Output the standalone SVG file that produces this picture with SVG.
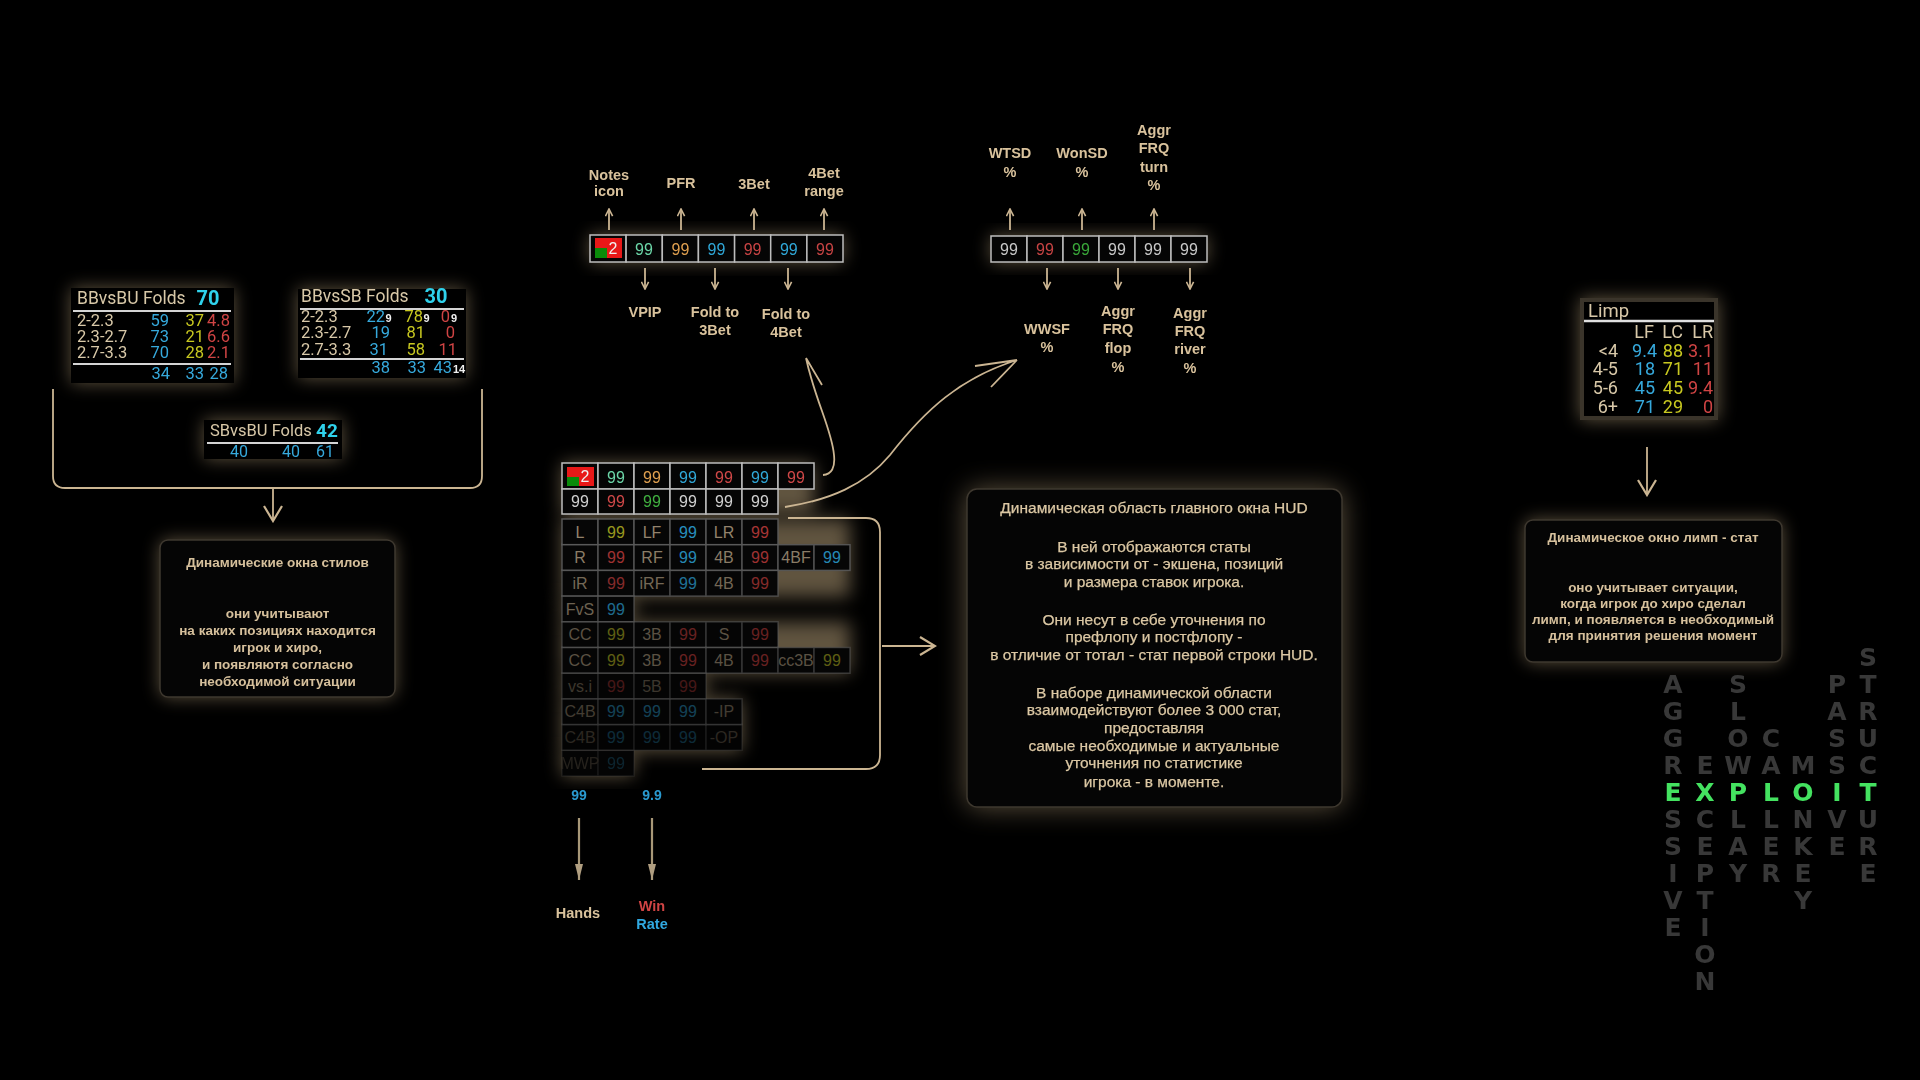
<svg xmlns="http://www.w3.org/2000/svg" width="1920" height="1080" viewBox="0 0 1920 1080">
<defs>
<style>
.lbl{font-family:"Liberation Sans",Arial,sans-serif;font-weight:bold;font-size:14.5px;fill:#d9c29c;text-anchor:middle}
.tb{font-family:"Liberation Sans",Arial,sans-serif;font-weight:bold;font-size:13.5px;fill:#d6c09c;text-anchor:middle}
.tc{font-family:"Liberation Sans",Arial,sans-serif;font-size:15.5px;fill:#dcc8a4;text-anchor:middle;stroke:#dcc8a4;stroke-width:0.25}
.box{fill:#050505;stroke:#3e382f;stroke-width:1.5}
.hz{font-family:Roboto,"Liberation Sans",sans-serif;font-size:16.5px}
.hd{font-family:"Liberation Sans",Arial,sans-serif;font-size:16px;text-anchor:middle}
.cell{fill:#050505;stroke:#bdbdbd;stroke-width:1.5}
.dc{fill:#070707;stroke:#5a5a5a;stroke-width:1.5}
.tan{fill:#d8c8a8}.blu{fill:#36a9dc}.yel{fill:#c8c820}.red{fill:#d04444}.cy{fill:#2fd2ec}.wht{fill:#f0f0f0}
.arr{stroke:#cbb592;stroke-width:1.8;fill:none}
.glw{fill:#a08c6a;filter:url(#blur)}
.let{font-family:"DejaVu Sans",Verdana,sans-serif;font-weight:bold;font-size:25px;text-anchor:middle;fill:#383838}
.grn{fill:#44e260}
</style>
<filter id="blur" x="-50%" y="-50%" width="200%" height="200%"><feGaussianBlur stdDeviation="9"/></filter>
<filter id="blur2" x="-50%" y="-50%" width="200%" height="200%"><feGaussianBlur stdDeviation="14"/></filter>
<marker id="hv" viewBox="0 0 10 10" refX="9" refY="5" markerWidth="9" markerHeight="9" markerUnits="userSpaceOnUse" orient="auto"><path d="M1,1 L9,5 L1,9" fill="none" stroke="#cbb592" stroke-width="1.8"/></marker>
<marker id="hb" viewBox="0 0 10 10" refX="9" refY="5" markerWidth="20" markerHeight="20" markerUnits="userSpaceOnUse" orient="auto"><path d="M1.5,0.5 L9,5 L1.5,9.5" fill="none" stroke="#cbb592" stroke-width="1.1"/></marker>
<marker id="hf" viewBox="0 0 10 10" refX="10" refY="5" markerWidth="16" markerHeight="16" markerUnits="userSpaceOnUse" orient="auto"><path d="M0,2.5 L10,5 L0,7.5 Z" fill="#b09e80"/></marker>
</defs>
<rect width="1920" height="1080" fill="#000"/>

<!-- glows -->
<g id="glows" opacity="0.6">
<rect class="glw" x="71" y="288" width="163" height="95"/>
<rect class="glw" x="298" y="289" width="168" height="89"/>
<rect class="glw" x="204" y="420" width="138" height="39"/>
<rect class="glw" x="160" y="540" width="235" height="157" rx="8"/>
<rect class="glw" x="590" y="235" width="253" height="27"/>
<rect class="glw" x="991" y="236" width="216" height="26"/>
<g>
<rect class="glw" x="562" y="463" width="252" height="51"/>
<rect class="glw" x="562" y="519" width="288" height="78"/>
<rect class="glw" x="562" y="596" width="72" height="26"/>
<rect class="glw" x="562" y="622" width="288" height="51"/>
<rect class="glw" x="562" y="673" width="144" height="26"/>
<rect class="glw" x="562" y="699" width="180" height="52"/>
<rect class="glw" x="562" y="750" width="72" height="26"/>
</g>
<rect x="967" y="489" width="375" height="318" rx="10" fill="#a08c6a" filter="url(#blur2)"/>
<rect class="glw" x="1580" y="298" width="138" height="122"/>
<rect class="glw" x="1525" y="520" width="257" height="142" rx="8"/>
</g>

<!-- connectors -->
<g id="connectors">
<path class="arr" d="M53 389 V476 Q53 488 65 488 H470 Q482 488 482 476 V389"/>
<path class="arr" d="M273 488 V521" marker-end="url(#hb)"/>
<path class="arr" d="M609 230 V209" marker-end="url(#hv)"/>
<path class="arr" d="M681 230 V209" marker-end="url(#hv)"/>
<path class="arr" d="M754 230 V209" marker-end="url(#hv)"/>
<path class="arr" d="M824 230 V209" marker-end="url(#hv)"/>
<path class="arr" d="M645 268 V289" marker-end="url(#hv)"/>
<path class="arr" d="M715 268 V289" marker-end="url(#hv)"/>
<path class="arr" d="M788 268 V289" marker-end="url(#hv)"/>
<path class="arr" d="M1010 230 V209" marker-end="url(#hv)"/>
<path class="arr" d="M1082 230 V209" marker-end="url(#hv)"/>
<path class="arr" d="M1154 230 V209" marker-end="url(#hv)"/>
<path class="arr" d="M1047 268 V289" marker-end="url(#hv)"/>
<path class="arr" d="M1118 268 V289" marker-end="url(#hv)"/>
<path class="arr" d="M1190 268 V289" marker-end="url(#hv)"/>
<path class="arr" stroke-width="1.6" d="M823 475 Q836 474 834 455 C832 430 815 400 806 358 M806 358 L822 385"/>
<path class="arr" stroke-width="1.6" d="M785 507 C830 500 865 485 890 455 C925 410 960 378 1017 360 M1017 360 L975 366 M1017 360 L991 387"/>
<path class="arr" d="M788 518 H866 Q880 518 880 532 V755 Q880 769 866 769 H702"/>
<path class="arr" d="M882 646 H935" marker-end="url(#hb)"/>
<path d="M579 818 V880" stroke="#a89878" stroke-width="2.2" marker-end="url(#hf)"/>
<path d="M652 818 V880" stroke="#a89878" stroke-width="2.2" marker-end="url(#hf)"/>
<path class="arr" d="M1647 447 V495" marker-end="url(#hb)"/>
</g>

<!-- left HUD boxes -->
<g id="bbvsbu" class="hz">
<rect x="71" y="288" width="163" height="95" fill="#000"/>
<text x="77" y="304" font-size="17.5" class="tan">BBvsBU Folds</text>
<text x="208" y="305" font-size="20" font-weight="bold" text-anchor="middle" class="cy">70</text>
<line x1="73" y1="311" x2="231" y2="311" stroke="#d4d4d4" stroke-width="2"/>
<text x="77" y="326" class="tan">2-2.3</text>
<text x="77" y="342" class="tan">2.3-2.7</text>
<text x="77" y="358" class="tan">2.7-3.3</text>
<g text-anchor="end">
<text x="169" y="326" class="blu">59</text><text x="204" y="326" class="yel">37</text><text x="230" y="326" class="red">4.8</text>
<text x="169" y="342" class="blu">73</text><text x="204" y="342" class="yel">21</text><text x="230" y="342" class="red">6.6</text>
<text x="169" y="358" class="blu">70</text><text x="204" y="358" class="yel">28</text><text x="230" y="358" class="red">2.1</text>
<text x="170" y="379" class="blu">34</text><text x="204" y="379" class="blu">33</text><text x="228" y="379" class="blu">28</text>
</g>
<line x1="73" y1="364" x2="231" y2="364" stroke="#d4d4d4" stroke-width="2"/>
</g>

<g id="bbvssb" class="hz">
<rect x="298" y="289" width="168" height="89" fill="#000"/>
<text x="301" y="302" font-size="17.5" class="tan">BBvsSB Folds</text>
<text x="436" y="303" font-size="20" font-weight="bold" text-anchor="middle" class="cy">30</text>
<line x1="300" y1="309" x2="464" y2="309" stroke="#d4d4d4" stroke-width="2"/>
<text x="301" y="322" class="tan">2-2.3</text>
<text x="301" y="338" class="tan">2.3-2.7</text>
<text x="301" y="355" class="tan">2.7-3.3</text>
<g text-anchor="end">
<text x="385" y="322" class="blu">22</text><text x="423" y="322" class="yel">78</text><text x="450" y="322" class="red">0</text>
<text x="390" y="338" class="blu">19</text><text x="425" y="338" class="yel">81</text><text x="455" y="338" class="red">0</text>
<text x="388" y="355" class="blu">31</text><text x="425" y="355" class="yel">58</text><text x="457" y="355" class="red">11</text>
<text x="390" y="373" class="blu">38</text><text x="426" y="373" class="blu">33</text><text x="452" y="373" class="blu">43</text>
</g>
<g font-family="'Liberation Sans',Arial,sans-serif" font-weight="bold" font-size="11" class="wht">
<text x="385.5" y="322">9</text><text x="423.5" y="322">9</text><text x="451" y="322">9</text>
<text x="453" y="373">14</text>
</g>
<line x1="300" y1="359" x2="464" y2="359" stroke="#d4d4d4" stroke-width="2"/>
</g>

<g id="sbvsbu" class="hz">
<rect x="204" y="420" width="138" height="39" fill="#000"/>
<text x="210" y="436" font-size="16.5" class="tan">SBvsBU Folds</text>
<text x="327" y="437" font-size="19" font-weight="bold" text-anchor="middle" class="cy">42</text>
<line x1="207" y1="443" x2="338" y2="443" stroke="#d4d4d4" stroke-width="2"/>
<g text-anchor="end" font-size="16">
<text x="248" y="457" class="blu">40</text><text x="300" y="457" class="blu">40</text><text x="334" y="457" class="blu">61</text>
</g>
</g>

<!-- left text box -->
<g id="styles-text">
<rect class="box" x="160" y="540" width="235" height="157" rx="8"/>
<text class="tb" x="277.5" y="567">Динамические окна стилов</text>
<text class="tb" x="277.5" y="618">они учитывают</text>
<text class="tb" x="277.5" y="635">на каких позициях находится</text>
<text class="tb" x="277.5" y="652">игрок и хиро,</text>
<text class="tb" x="277.5" y="669">и появляютя согласно</text>
<text class="tb" x="277.5" y="686">необходимой ситуации</text>
</g>

<!-- top center HUD row -->
<g id="hud-top">
<rect class="cell" x="590" y="235" width="36.1" height="27"/>
<rect class="cell" x="626.1" y="235" width="36.2" height="27"/>
<rect class="cell" x="662.3" y="235" width="36.1" height="27"/>
<rect class="cell" x="698.4" y="235" width="36.2" height="27"/>
<rect class="cell" x="734.6" y="235" width="36.1" height="27"/>
<rect class="cell" x="770.7" y="235" width="36.2" height="27"/>
<rect class="cell" x="806.9" y="235" width="36.1" height="27"/>
<rect x="595" y="238" width="27" height="20" fill="#e81818"/>
<rect x="595" y="248" width="12" height="10" fill="#0a8a0a"/>
<text class="hd wht" x="613" y="254" font-size="14">2</text>
<text class="hd" x="644" y="255" fill="#6cd6a8">99</text>
<text class="hd" x="680.4" y="255" fill="#e0a050">99</text>
<text class="hd" x="716.5" y="255" fill="#30a8d8">99</text>
<text class="hd" x="752.6" y="255" fill="#c84444">99</text>
<text class="hd" x="788.8" y="255" fill="#30a8d8">99</text>
<text class="hd" x="825" y="255" fill="#c84444">99</text>
</g>
<g id="hud-top-labels">
<text class="lbl" x="609" y="180">Notes</text><text class="lbl" x="609" y="196">icon</text>
<text class="lbl" x="681" y="188">PFR</text>
<text class="lbl" x="754" y="189">3Bet</text>
<text class="lbl" x="824" y="178">4Bet</text><text class="lbl" x="824" y="196">range</text>
<text class="lbl" x="645" y="317">VPIP</text>
<text class="lbl" x="715" y="317">Fold to</text><text class="lbl" x="715" y="335">3Bet</text>
<text class="lbl" x="786" y="319">Fold to</text><text class="lbl" x="786" y="337">4Bet</text>
</g>

<!-- top right HUD row -->
<g id="hud-post">
<rect class="cell" x="991" y="236" width="36" height="26"/>
<rect class="cell" x="1027" y="236" width="36" height="26"/>
<rect class="cell" x="1063" y="236" width="36" height="26"/>
<rect class="cell" x="1099" y="236" width="36" height="26"/>
<rect class="cell" x="1135" y="236" width="36" height="26"/>
<rect class="cell" x="1171" y="236" width="36" height="26"/>
<text class="hd" x="1009" y="255" font-size="15" fill="#c8c8c8">99</text>
<text class="hd" x="1045" y="255" font-size="15" fill="#c84444">99</text>
<text class="hd" x="1081" y="255" font-size="15" fill="#3aa83a">99</text>
<text class="hd" x="1117" y="255" font-size="15" fill="#c8c8c8">99</text>
<text class="hd" x="1153" y="255" font-size="15" fill="#c8c8c8">99</text>
<text class="hd" x="1189" y="255" font-size="15" fill="#c8c8c8">99</text>
</g>
<g id="hud-post-labels">
<text class="lbl" x="1010" y="158">WTSD</text><text class="lbl" x="1010" y="177">%</text>
<text class="lbl" x="1082" y="158">WonSD</text><text class="lbl" x="1082" y="177">%</text>
<text class="lbl" x="1154" y="135">Aggr</text><text class="lbl" x="1154" y="153">FRQ</text><text class="lbl" x="1154" y="172">turn</text><text class="lbl" x="1154" y="190">%</text>
<text class="lbl" x="1047" y="334">WWSF</text><text class="lbl" x="1047" y="352">%</text>
<text class="lbl" x="1118" y="316">Aggr</text><text class="lbl" x="1118" y="334">FRQ</text><text class="lbl" x="1118" y="353">flop</text><text class="lbl" x="1118" y="372">%</text>
<text class="lbl" x="1190" y="318">Aggr</text><text class="lbl" x="1190" y="336">FRQ</text><text class="lbl" x="1190" y="354">river</text><text class="lbl" x="1190" y="373">%</text>
</g>

<!-- main HUD -->
<g id="hud-main">
<g>
<rect class="cell" x="562" y="463" width="36" height="26"/>
<rect class="cell" x="598" y="463" width="36" height="26"/>
<rect class="cell" x="634" y="463" width="36" height="26"/>
<rect class="cell" x="670" y="463" width="36" height="26"/>
<rect class="cell" x="706" y="463" width="36" height="26"/>
<rect class="cell" x="742" y="463" width="36" height="26"/>
<rect class="cell" x="778" y="463" width="36" height="26"/>
<rect x="567" y="467" width="27" height="19" fill="#e81818"/>
<rect x="567" y="477" width="12" height="9" fill="#0a8a0a"/>
<text class="hd wht" x="585" y="482" font-size="14">2</text>
<text class="hd" x="616" y="483" font-size="17" fill="#6cd6a8">99</text>
<text class="hd" x="652" y="483" font-size="17" fill="#e0a050">99</text>
<text class="hd" x="688" y="483" fill="#30a8d8">99</text>
<text class="hd" x="724" y="483" fill="#d04848">99</text>
<text class="hd" x="760" y="483" fill="#30a8d8">99</text>
<text class="hd" x="796" y="483" fill="#d04848">99</text>
</g>
<g>
<rect class="cell" x="562" y="489" width="36" height="25"/>
<rect class="cell" x="598" y="489" width="36" height="25"/>
<rect class="cell" x="634" y="489" width="36" height="25"/>
<rect class="cell" x="670" y="489" width="36" height="25"/>
<rect class="cell" x="706" y="489" width="36" height="25"/>
<rect class="cell" x="742" y="489" width="36" height="25"/>
<text class="hd" x="580" y="507" fill="#d0d0d0">99</text>
<text class="hd" x="616" y="507" fill="#d04848">99</text>
<text class="hd" x="652" y="507" fill="#40b040">99</text>
<text class="hd" x="688" y="507" fill="#d0d0d0">99</text>
<text class="hd" x="724" y="507" fill="#d0d0d0">99</text>
<text class="hd" x="760" y="507" fill="#d0d0d0">99</text>
</g>
<!-- opaque underlay for dynamic rows -->
<g fill="#040404">
<rect x="562" y="519" width="216" height="25.7"/>
<rect x="562" y="544.7" width="288" height="25.7"/>
<rect x="562" y="570.4" width="216" height="25.7"/>
<rect x="562" y="596.1" width="72" height="25.7"/>
<rect x="562" y="621.8" width="216" height="25.7"/>
<rect x="562" y="647.5" width="288" height="25.7"/>
<rect x="562" y="673.2" width="144" height="25.7"/>
<rect x="562" y="698.9" width="180" height="51.4"/>
<rect x="562" y="750.3" width="72" height="25.7"/>
</g>
<!-- row A -->
<g opacity="0.95">
<rect class="dc" x="562" y="519" width="36" height="25.7"/><rect class="dc" x="598" y="519" width="36" height="25.7"/><rect class="dc" x="634" y="519" width="36" height="25.7"/><rect class="dc" x="670" y="519" width="36" height="25.7"/><rect class="dc" x="706" y="519" width="36" height="25.7"/><rect class="dc" x="742" y="519" width="36" height="25.7"/>
<text class="hd" x="580" y="537.5" fill="#9a8a72">L</text><text class="hd" x="616" y="537.5" fill="#a0a020">99</text><text class="hd" x="652" y="537.5" fill="#9a8a72">LF</text><text class="hd" x="688" y="537.5" fill="#2a98c8">99</text><text class="hd" x="724" y="537.5" fill="#9a8a72">LR</text><text class="hd" x="760" y="537.5" fill="#b03838">99</text>
</g>
<!-- row B -->
<g opacity="0.9">
<rect class="dc" x="562" y="544.7" width="36" height="25.7"/><rect class="dc" x="598" y="544.7" width="36" height="25.7"/><rect class="dc" x="634" y="544.7" width="36" height="25.7"/><rect class="dc" x="670" y="544.7" width="36" height="25.7"/><rect class="dc" x="706" y="544.7" width="36" height="25.7"/><rect class="dc" x="742" y="544.7" width="36" height="25.7"/><rect class="dc" x="778" y="544.7" width="36" height="25.7"/><rect class="dc" x="814" y="544.7" width="36" height="25.7"/>
<text class="hd" x="580" y="563" fill="#9a8a72">R</text><text class="hd" x="616" y="563" fill="#b03838">99</text><text class="hd" x="652" y="563" fill="#9a8a72">RF</text><text class="hd" x="688" y="563" fill="#2a98c8">99</text><text class="hd" x="724" y="563" fill="#9a8a72">4B</text><text class="hd" x="760" y="563" fill="#b03838">99</text><text class="hd" x="796" y="563" fill="#9a8a72">4BF</text><text class="hd" x="832" y="563" fill="#2a98c8">99</text>
</g>
<!-- row C -->
<g opacity="0.75">
<rect class="dc" x="562" y="570.4" width="36" height="25.7"/><rect class="dc" x="598" y="570.4" width="36" height="25.7"/><rect class="dc" x="634" y="570.4" width="36" height="25.7"/><rect class="dc" x="670" y="570.4" width="36" height="25.7"/><rect class="dc" x="706" y="570.4" width="36" height="25.7"/><rect class="dc" x="742" y="570.4" width="36" height="25.7"/>
<text class="hd" x="580" y="589" fill="#9a8a72">iR</text><text class="hd" x="616" y="589" fill="#b03838">99</text><text class="hd" x="652" y="589" fill="#9a8a72">iRF</text><text class="hd" x="688" y="589" fill="#2a98c8">99</text><text class="hd" x="724" y="589" fill="#9a8a72">4B</text><text class="hd" x="760" y="589" fill="#b03838">99</text>
</g>
<!-- row D -->
<g opacity="0.7">
<rect class="dc" x="562" y="596.1" width="36" height="25.7"/><rect class="dc" x="598" y="596.1" width="36" height="25.7"/>
<text class="hd" x="580" y="614.5" fill="#9a8a72">FvS</text><text class="hd" x="616" y="614.5" fill="#2a98c8">99</text>
</g>
<!-- row E -->
<g opacity="0.58">
<rect class="dc" x="562" y="621.8" width="36" height="25.7"/><rect class="dc" x="598" y="621.8" width="36" height="25.7"/><rect class="dc" x="634" y="621.8" width="36" height="25.7"/><rect class="dc" x="670" y="621.8" width="36" height="25.7"/><rect class="dc" x="706" y="621.8" width="36" height="25.7"/><rect class="dc" x="742" y="621.8" width="36" height="25.7"/>
<text class="hd" x="580" y="640" fill="#9a8a72">CC</text><text class="hd" x="616" y="640" fill="#a0a020">99</text><text class="hd" x="652" y="640" fill="#9a8a72">3B</text><text class="hd" x="688" y="640" fill="#b03838">99</text><text class="hd" x="724" y="640" fill="#9a8a72">S</text><text class="hd" x="760" y="640" fill="#b03838">99</text>
</g>
<!-- row F -->
<g opacity="0.58">
<rect class="dc" x="562" y="647.5" width="36" height="25.7"/><rect class="dc" x="598" y="647.5" width="36" height="25.7"/><rect class="dc" x="634" y="647.5" width="36" height="25.7"/><rect class="dc" x="670" y="647.5" width="36" height="25.7"/><rect class="dc" x="706" y="647.5" width="36" height="25.7"/><rect class="dc" x="742" y="647.5" width="36" height="25.7"/><rect class="dc" x="778" y="647.5" width="36" height="25.7"/><rect class="dc" x="814" y="647.5" width="36" height="25.7"/>
<text class="hd" x="580" y="666" fill="#9a8a72">CC</text><text class="hd" x="616" y="666" fill="#a0a020">99</text><text class="hd" x="652" y="666" fill="#9a8a72">3B</text><text class="hd" x="688" y="666" fill="#b03838">99</text><text class="hd" x="724" y="666" fill="#9a8a72">4B</text><text class="hd" x="760" y="666" fill="#b03838">99</text><text class="hd" x="796" y="666" fill="#9a8a72">cc3B</text><text class="hd" x="832" y="666" fill="#a0a020">99</text>
</g>
<!-- row G -->
<g opacity="0.38">
<rect class="dc" x="562" y="673.2" width="36" height="25.7"/><rect class="dc" x="598" y="673.2" width="36" height="25.7"/><rect class="dc" x="634" y="673.2" width="36" height="25.7"/><rect class="dc" x="670" y="673.2" width="36" height="25.7"/>
<text class="hd" x="580" y="691.5" fill="#9a8a72">vs.i</text><text class="hd" x="616" y="691.5" fill="#b03838">99</text><text class="hd" x="652" y="691.5" fill="#9a8a72">5B</text><text class="hd" x="688" y="691.5" fill="#b03838">99</text>
</g>
<!-- row H -->
<g opacity="0.42">
<rect class="dc" x="562" y="698.9" width="36" height="25.7"/><rect class="dc" x="598" y="698.9" width="36" height="25.7"/><rect class="dc" x="634" y="698.9" width="36" height="25.7"/><rect class="dc" x="670" y="698.9" width="36" height="25.7"/><rect class="dc" x="706" y="698.9" width="36" height="25.7"/>
<text class="hd" x="580" y="717" fill="#9a8a72">C4B</text><text class="hd" x="616" y="717" fill="#2a98c8">99</text><text class="hd" x="652" y="717" fill="#2a98c8">99</text><text class="hd" x="688" y="717" fill="#2a98c8">99</text><text class="hd" x="724" y="717" fill="#9a8a72">-IP</text>
</g>
<!-- row I -->
<g opacity="0.27">
<rect class="dc" x="562" y="724.6" width="36" height="25.7"/><rect class="dc" x="598" y="724.6" width="36" height="25.7"/><rect class="dc" x="634" y="724.6" width="36" height="25.7"/><rect class="dc" x="670" y="724.6" width="36" height="25.7"/><rect class="dc" x="706" y="724.6" width="36" height="25.7"/>
<text class="hd" x="580" y="743" fill="#9a8a72">C4B</text><text class="hd" x="616" y="743" fill="#2a98c8">99</text><text class="hd" x="652" y="743" fill="#2a98c8">99</text><text class="hd" x="688" y="743" fill="#2a98c8">99</text><text class="hd" x="724" y="743" fill="#9a8a72">-OP</text>
</g>
<!-- row J -->
<g opacity="0.22">
<rect class="dc" x="562" y="750.3" width="36" height="25.7"/><rect class="dc" x="598" y="750.3" width="36" height="25.7"/>
<text class="hd" x="580" y="769" fill="#9a8a72">MWP</text><text class="hd" x="616" y="769" fill="#2a98c8">99</text>
</g>
</g>

<!-- hands / winrate -->
<g id="hands-wr">
<text x="579" y="800" font-family="'Liberation Sans',Arial,sans-serif" font-weight="bold" font-size="14" fill="#2a9ad0" text-anchor="middle">99</text>
<text x="652" y="800" font-family="'Liberation Sans',Arial,sans-serif" font-weight="bold" font-size="14" fill="#2a9ad0" text-anchor="middle">9.9</text>
<text class="lbl" x="578" y="918">Hands</text>
<text class="lbl" x="652" y="911" style="fill:#d04444">Win</text>
<text class="lbl" x="652" y="929" style="fill:#30a8e0">Rate</text>
</g>

<!-- center text box -->
<g id="dyn-text">
<rect class="box" x="967" y="489" width="375" height="318" rx="10"/>
<text class="tc" x="1154" y="513">Динамическая область главного окна HUD</text>
<text class="tc" x="1154" y="552">В ней отображаются статы</text>
<text class="tc" x="1154" y="569">в зависимости от - экшена, позиций</text>
<text class="tc" x="1154" y="587">и размера ставок игрока.</text>
<text class="tc" x="1154" y="625">Они несут в себе уточнения по</text>
<text class="tc" x="1154" y="642">префлопу и постфлопу -</text>
<text class="tc" x="1154" y="660">в отличие от тотал - стат первой строки HUD.</text>
<text class="tc" x="1154" y="698">В наборе динамической области</text>
<text class="tc" x="1154" y="715">взаимодействуют более 3 000 стат,</text>
<text class="tc" x="1154" y="733">предоставляя</text>
<text class="tc" x="1154" y="751">самые необходимые и актуальные</text>
<text class="tc" x="1154" y="768">уточнения по статистике</text>
<text class="tc" x="1154" y="787">игрока - в моменте.</text>
</g>

<!-- Limp box -->
<g id="limp" class="hz">
<rect x="1580" y="298" width="138" height="122" fill="#3a342a"/>
<rect x="1584" y="302" width="130" height="114" fill="#000"/>
<text x="1588" y="317" font-size="18.5" class="tan">Limp</text>
<line x1="1584" y1="321" x2="1714" y2="321" stroke="#e0e0e0" stroke-width="2.5"/>
<g text-anchor="end" font-size="18">
<text x="1654" y="338" class="tan">LF</text><text x="1683" y="338" class="tan">LC</text><text x="1713" y="338" class="tan">LR</text>
<text x="1618" y="357" class="tan">&lt;4</text><text x="1657" y="357" class="blu">9.4</text><text x="1683" y="357" class="yel">88</text><text x="1713" y="357" class="red">3.1</text>
<text x="1618" y="375" class="tan">4-5</text><text x="1655" y="375" class="blu">18</text><text x="1683" y="375" class="yel">71</text><text x="1713" y="375" class="red">11</text>
<text x="1618" y="394" class="tan">5-6</text><text x="1655" y="394" class="blu">45</text><text x="1683" y="394" class="yel">45</text><text x="1713" y="394" class="red">9.4</text>
<text x="1618" y="413" class="tan">6+</text><text x="1655" y="413" class="blu">71</text><text x="1683" y="413" class="yel">29</text><text x="1713" y="413" class="red">0</text>
</g>
</g>

<!-- right text box -->
<g id="limp-text">
<rect class="box" x="1525" y="520" width="257" height="142" rx="8"/>
<text class="tb" x="1653" y="542">Динамическое окно лимп - стат</text>
<text class="tb" x="1653" y="592">оно учитывает ситуации,</text>
<text class="tb" x="1653" y="608">когда игрок до хиро сделал</text>
<text class="tb" x="1653" y="624">лимп, и появляется в необходимый</text>
<text class="tb" x="1653" y="640">для принятия решения момент</text>
</g>

<!-- letters -->
<g id="letters" class="let">
<text x="1673 1673 1673 1673" y="693 720 747 774">AGGR</text>
<text x="1673 1673 1673 1673 1673" y="828 855 882 909 936">SSIVE</text>
<text x="1705" y="774">E</text>
<text x="1705 1705 1705 1705 1705 1705 1705" y="828 855 882 909 936 963 990">CEPTION</text>
<text x="1738 1738 1738 1738" y="693 720 747 774">SLOW</text>
<text x="1738 1738 1738" y="828 855 882">LAY</text>
<text x="1771 1771" y="747 774">CA</text>
<text x="1771 1771 1771" y="828 855 882">LER</text>
<text x="1803" y="774">M</text>
<text x="1803 1803 1803 1803" y="828 855 882 909">NKEY</text>
<text x="1837 1837 1837 1837" y="693 720 747 774">PASS</text>
<text x="1837 1837" y="828 855">VE</text>
<text x="1868 1868 1868 1868 1868" y="666 693 720 747 774">STRUC</text>
<text x="1868 1868 1868" y="828 855 882">URE</text>
<text class="grn" x="1673 1705 1738 1771 1803 1837 1868" y="801 801 801 801 801 801 801">EXPLOIT</text>
</g>
</svg>
